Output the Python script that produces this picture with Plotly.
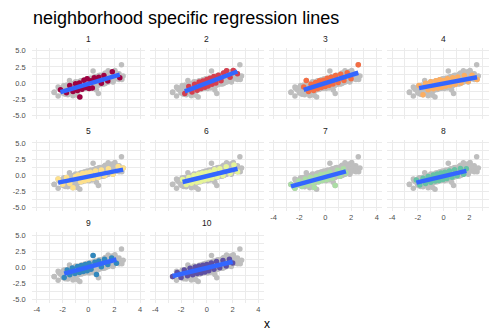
import plotly.graph_objects as go

# ---------------- data ----------------
neighborhoods = ["1", "2", "3", "4", "5", "6", "7", "8", "9", "10"]
palette = ["#9E0142", "#D53E4F", "#F46D43", "#FDAE61", "#FEE08B",
           "#E6F598", "#ABDDA4", "#66C2A5", "#3288BD", "#5E4FA2"]

x1 = [-2.17, -1.7, -1.45, -1.2, -1.0, -0.85, -0.7, -0.67, -0.5, -0.35, -0.2, -0.1, 0.05, 0.2, 0.3, 0.45, 0.6, 0.8, 1.0, 1.2, 1.5, 1.85, 2.43]
y1 = [-1.05, -1.5, -0.4, -1.3, -0.1, -1.15, 0.0, -2.18, -0.95, 0.45, -0.7, 0.65, -0.85, 0.35, -0.75, 0.8, 0.55, 0.9, -0.05, 1.15, 0.3, 1.75, 0.8]
x2 = [-1.71, -1.4, -1.15, -0.95, -0.75, -0.6, -0.45, -0.3, -0.15, 0.0, 0.1, 0.25, 0.4, 0.55, 0.7, 0.9, 1.1, 1.3, 1.53, 1.8, 2.05, 2.37]
y2 = [-1.6, -0.55, -1.4, -0.2, -1.1, 0.15, -0.85, 0.3, -0.65, 0.55, -0.45, 0.75, -0.2, 1.0, 0.0, 1.2, 0.35, 1.55, 1.92, 0.9, 1.95, 1.45]
x3 = [-1.67, -1.47, -1.3, -1.1, -0.9, -0.75, -0.6, -0.45, -0.3, -0.15, 0.0, 0.15, 0.3, 0.45, 0.6, 0.8, 1.0, 1.2, 1.45, 1.7, 2.0, 2.56]
y3 = [-0.6, 0.38, -1.3, -0.2, -1.15, 0.1, -0.9, 0.35, -0.7, 0.45, -0.55, 0.75, -0.35, 0.9, -0.15, 1.15, 0.1, 1.35, 0.4, 1.6, 0.65, 2.85]
x4 = [-1.91, -1.6, -1.4, -1.2, -1.0, -0.8, -0.6, -0.45, -0.3, -0.15, 0.0, 0.15, 0.3, 0.5, 0.7, 0.9, 1.1, 1.35, 1.6, 1.9, 2.2, 2.59]
y4 = [-0.4, -1.8, -0.05, -1.05, 0.2, -0.9, 0.35, -0.75, 0.5, -0.65, 0.4, -0.5, 0.65, -0.35, 0.8, -0.2, 0.95, 0.0, 1.15, 0.25, 1.2, 0.55]
x5 = [-2.35, -2.0, -1.7, -1.45, -1.2, -1.0, -0.8, -0.6, -0.45, -0.3, -0.15, 0.0, 0.15, 0.35, 0.55, 0.75, 1.0, 1.25, 1.55, 1.9, 2.3, 2.69]
y5 = [-0.6, -1.4, -0.35, -1.3, -1.95, -0.2, 0.05, -1.0, 0.25, -0.85, 0.35, -0.7, 0.45, -0.5, 0.65, -0.35, 0.8, -0.1, 1.0, 0.15, 1.35, 1.1]
x6 = [-1.88, -1.6, -1.4, -1.2, -1.0, -0.8, -0.65, -0.5, -0.35, -0.2, -0.05, 0.1, 0.25, 0.4, 0.6, 0.8, 1.0, 1.25, 1.5, 1.8, 2.1, 2.38]
y6 = [-0.65, -1.45, -0.35, -1.25, -0.05, -1.05, 0.15, -0.95, 0.3, -0.75, 0.4, -0.6, 0.5, -0.45, 0.85, -0.25, 1.0, -0.05, 1.3, 0.3, 1.6, 0.55]
x7 = [-2.66, -2.35, -2.05, -1.8, -1.55, -1.35, -1.15, -0.95, -0.85, -0.7, -0.5, -0.35, -0.2, 0.0, 0.15, 0.35, 0.55, 0.77, 0.95, 1.15, 1.4, 1.6]
y7 = [-1.45, -2.0, -0.9, -1.75, -0.6, -1.5, -0.35, -1.2, -1.9, -0.15, -1.0, 0.1, -0.8, 0.2, -0.65, 0.45, -0.45, -1.6, 0.75, -0.15, 1.0, 0.35]
x8 = [-2.12, -1.85, -1.6, -1.4, -1.2, -1.0, -0.8, -0.65, -0.5, -0.35, -0.2, -0.05, 0.1, 0.25, 0.45, 0.65, 0.85, 1.05, 1.3, 1.55, 1.76]
y8 = [-0.75, -1.5, -0.45, -1.3, -0.2, -1.1, 0.05, -0.9, 0.2, -0.8, 0.35, -0.65, 0.45, -0.5, 0.65, -0.3, 0.85, -0.1, 1.05, 0.15, 1.0]
x9 = [-1.88, -1.65, -1.45, -1.25, -1.05, -0.85, -0.7, -0.55, -0.4, -0.25, -0.1, 0.05, 0.2, 0.36, 0.5, 0.62, 0.8, 1.0, 1.25, 1.5, 1.8, 2.17]
y9 = [-1.55, -0.4, -1.15, -0.1, -0.95, 0.15, -0.8, 0.3, -0.65, 0.45, -0.5, 0.6, -0.3, 1.85, 0.8, -1.08, 1.0, 0.1, 1.25, 0.45, 1.45, 0.65]
x10 = [-2.65, -2.3, -2.0, -1.75, -1.5, -1.3, -1.1, -0.9, -0.75, -0.6, -0.45, -0.3, -0.15, 0.0, 0.15, 0.35, 0.55, 0.75, 1.0, 1.25, 1.5, 1.75, 2.0]
y10 = [-1.4, -0.8, -1.55, -0.4, -1.3, -0.15, -1.15, 0.05, -0.95, 0.2, -0.85, 0.35, -0.7, 0.45, -0.5, 0.7, -0.3, 0.9, -0.05, 1.05, 0.2, 1.25, 0.7]

# fitted regression lines (intercept, slope) per neighborhood
intercepts = [-0.13, 0.0, -0.01, -0.07, -0.21, -0.15, -0.28, -0.15, 0.05, -0.07]
slopes = [0.59, 0.755, 0.625, 0.375, 0.40, 0.48, 0.54, 0.47, 0.54, 0.475]

x_ticks = [-4, -2, 0, 2, 4]
x_tick_labels = ["-4", "-2", "0", "2", "4"]
y_ticks = [-5, -2.5, 0, 2.5, 5]
y_tick_labels = ["-5.0", "-2.5", "0.0", "2.5", "5.0"]

title_text = "neighborhood specific regression lines"
x_title = "x"

# ---------------- figure ----------------
xs = [x1, x2, x3, x4, x5, x6, x7, x8, x9, x10]
ys = [y1, y2, y3, y4, y5, y6, y7, y8, y9, y10]
all_x = [v for arr in xs for v in arr]
all_y = [v for arr in ys for v in arr]

OFF = 8  # default page margin of the html body
W, H = 497 - OFF, 333 - OFF
ncol = 4
col_left0, col_pitch, panel_w = 31.7 - OFF, 118.4, 113.5
row_top0, row_pitch, panel_h = 46.75 - OFF, 92.75, 71.5
xr = (-4.4, 4.4)
yr = (-5.5, 5.5)
px_per_x = panel_w / (xr[1] - xr[0])

fig = go.Figure()
layout = dict(
    width=W, height=H, margin=dict(l=0, r=0, t=0, b=0),
    paper_bgcolor="white", plot_bgcolor="white", showlegend=False,
    font=dict(family="Liberation Sans, Arial, sans-serif"),
)
annotations = []
grid_col = "#EBEBEB"
tick_font = dict(size=7.5, color="#4D4D4D")

for i, name in enumerate(neighborhoods):
    r, c = divmod(i, ncol)
    ax = "" if i == 0 else str(i + 1)
    left = col_left0 + c * col_pitch
    right = left + panel_w
    xmax = xr[1]
    if right > W:
        xmax = xr[1] - (right - W) / px_per_x
        right = W
    top = row_top0 + r * row_pitch
    bottom = top + panel_h
    show_x = (r == 2) or (r == 1 and c >= 2)
    show_y = c == 0
    layout["xaxis" + ax] = dict(
        domain=[left / W, right / W], range=[xr[0], xmax], anchor="y" + ax,
        tickvals=x_ticks, ticktext=x_tick_labels, showticklabels=show_x,
        tickfont=tick_font, ticks="", showgrid=True, gridcolor=grid_col, gridwidth=1,
        zeroline=False, showline=False, ticklabelstandoff=1,
        minor=dict(tickvals=[-3, -1, 1, 3], showgrid=True, gridcolor=grid_col, gridwidth=0.6),
    )
    layout["yaxis" + ax] = dict(
        domain=[1 - bottom / H, 1 - top / H], range=list(yr), anchor="x" + ax,
        tickvals=y_ticks, ticktext=y_tick_labels, showticklabels=show_y,
        tickfont=tick_font, ticks="", showgrid=True, gridcolor=grid_col, gridwidth=1,
        zeroline=False, showline=False, ticklabelstandoff=5,
        minor=dict(tickvals=[-3.75, -1.25, 1.25, 3.75], showgrid=True, gridcolor=grid_col, gridwidth=0.6),
    )
    # all points in grey
    fig.add_trace(go.Scatter(x=all_x, y=all_y, mode="markers", xaxis="x" + ax, yaxis="y" + ax,
                             marker=dict(size=5.5, color="#BEBEBE", line=dict(width=0)),
                             hoverinfo="skip"))
    # neighborhood points
    fig.add_trace(go.Scatter(x=xs[i], y=ys[i], mode="markers", xaxis="x" + ax, yaxis="y" + ax,
                             marker=dict(size=5.5, color=palette[i], line=dict(width=0)),
                             name=name))
    # regression line
    lx = [min(xs[i]), max(xs[i])]
    ly = [intercepts[i] + slopes[i] * v for v in lx]
    fig.add_trace(go.Scatter(x=lx, y=ly, mode="lines", xaxis="x" + ax, yaxis="y" + ax,
                             line=dict(color="#3366FF", width=4.5)))
    # strip label
    annotations.append(dict(text=name, x=(left + panel_w / 2) / W,
                            y=1 - (top - 8.5) / H, xref="paper", yref="paper",
                            showarrow=False, font=dict(size=8.5, color="#1A1A1A"),
                            xanchor="center", yanchor="middle"))

annotations.append(dict(text=title_text, x=(30.5 - OFF) / W, y=1 - (17.5 - OFF) / H,
                        xref="paper", yref="paper",
                        showarrow=False, font=dict(size=18, color="black"),
                        xanchor="left", yanchor="middle"))
annotations.append(dict(text=x_title, x=(267 - OFF) / W, y=1 - (324.5 - OFF) / H,
                        xref="paper", yref="paper",
                        showarrow=False, font=dict(size=12, color="black"),
                        xanchor="center", yanchor="middle"))
layout["annotations"] = annotations
fig.update_layout(**layout)
fig.write_html("out.html")
